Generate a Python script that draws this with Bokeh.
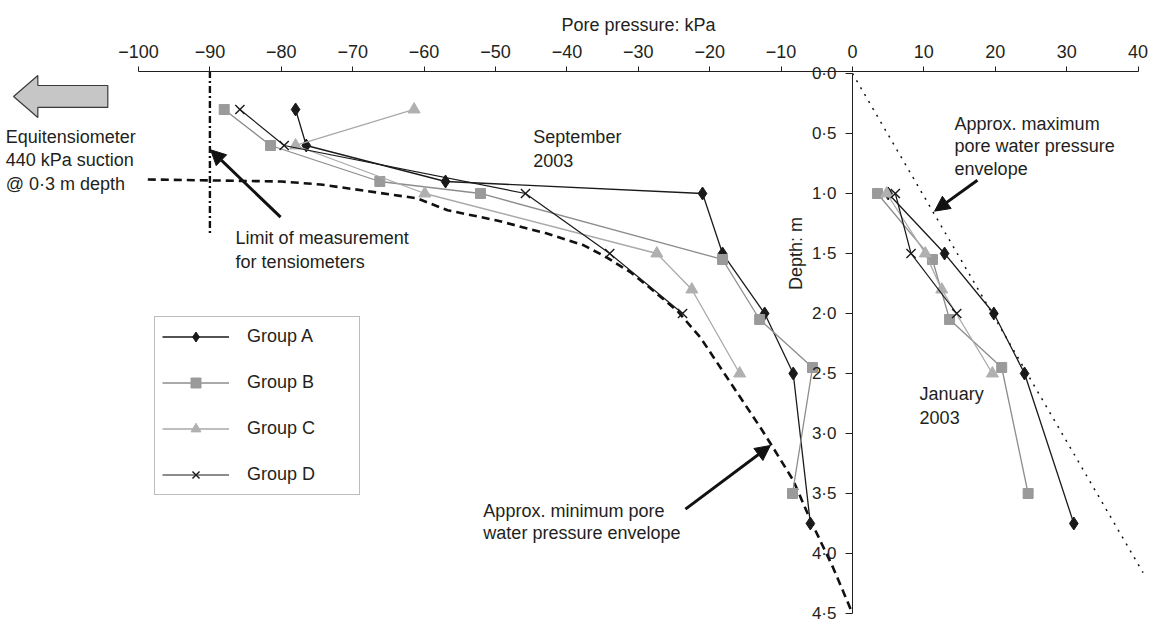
from math import pi

from bokeh.core.properties import value
from bokeh.embed import file_html
from bokeh.models import (Arrow, ColumnDataSource, CustomJSTickFormatter, FixedTicker,
                          Legend, LegendItem, NormalHead, Range1d)
from bokeh.plotting import figure
from bokeh.resources import INLINE

# ---- tick values -------------------------------------------------------------
PRESSURE_TICKS = [-100, -90, -80, -70, -60, -50, -40, -30, -20, -10, 0, 10, 20, 30, 40]
DEPTH_TICKS = [0.0, 0.5, 1.0, 1.5, 2.0, 2.5, 3.0, 3.5, 4.0, 4.5]

# ---- September 2003 profiles (pressure kPa, depth m) -------------------------
SEP_A_P = [-78.0, -76.5, -57.0, -21.0, -18.2, -12.3, -8.3, -5.9]
SEP_A_D = [0.3, 0.6, 0.9, 1.0, 1.5, 2.0, 2.5, 3.75]
SEP_B_P = [-88.0, -81.5, -66.2, -52.1, -18.2, -13.0, -5.6, -8.4]
SEP_B_D = [0.3, 0.6, 0.9, 1.0, 1.55, 2.05, 2.45, 3.5]
SEP_C_P = [-61.4, -78.0, -59.9, -27.4, -22.5, -15.8]
SEP_C_D = [0.3, 0.6, 1.0, 1.5, 1.8, 2.5]
SEP_D_P = [-85.8, -79.6, -45.8, -34.0, -23.8]
SEP_D_D = [0.3, 0.6, 1.0, 1.5, 2.0]

# ---- January 2003 profiles ---------------------------------------------------
JAN_A_P = [5.0, 12.9, 19.8, 24.1, 31.0]
JAN_A_D = [1.0, 1.5, 2.0, 2.5, 3.75]
JAN_B_P = [3.5, 11.2, 13.6, 20.9, 24.6]
JAN_B_D = [1.0, 1.55, 2.05, 2.45, 3.5]
JAN_C_P = [4.8, 10.2, 12.5, 19.6]
JAN_C_D = [1.0, 1.5, 1.8, 2.5]
JAN_D_P = [6.0, 8.2, 14.6]
JAN_D_D = [1.0, 1.5, 2.0]

# ---- envelopes and limits ----------------------------------------------------
MIN_ENV_P = [-98.7, -80.0, -74.5, -70.3, -61.0, -56.7, -49.8, -43.0, -37.7, -34.5,
             -31.0, -28.3, -24.5, -21.3, -17.5, -12.9, -11.1, -8.3, -5.9, -2.7, 0.0]
MIN_ENV_D = [0.883, 0.9, 0.925, 0.96, 1.04, 1.14, 1.225, 1.33, 1.43, 1.53,
             1.66, 1.79, 1.98, 2.2, 2.54, 2.95, 3.12, 3.39, 3.72, 4.12, 4.5]
MAX_ENV_P = [0.0, 40.7]
MAX_ENV_D = [0.0, 4.16]
LIMIT_P = [-90.0, -90.0]
LIMIT_D = [-0.02, 1.33]

# block arrow pointing to the off-scale equitensiometer reading
EQUI_ARROW_P = [-117.5, -114.1, -114.1, -104.3, -104.3, -114.1, -114.1]
EQUI_ARROW_D = [0.192, 0.017, 0.1, 0.1, 0.283, 0.283, 0.367]

# ---- annotation texts --------------------------------------------------------
NOTE_TEXT = ["Equitensiometer", "440 kPa suction", "@ 0\u00b73 m depth",
             "Limit of measurement", "for tensiometers",
             "September", "2003",
             "Approx. maximum", "pore water pressure", "envelope",
             "January", "2003",
             "Approx. minimum pore", "water pressure envelope"]
NOTE_P = [-118.6, -118.6, -118.6,
          -86.4, -86.4,
          -44.7, -44.7,
          14.3, 14.3, 14.3,
          9.4, 9.4,
          -51.7, -51.7]
NOTE_D = [0.533, 0.725, 0.917,
          1.375, 1.575,
          0.533, 0.725,
          0.417, 0.608, 0.8,
          2.667, 2.867,
          3.642, 3.833]

ARROW_P0 = [-80.1, 17.5, -23.4]
ARROW_D0 = [1.197, 0.89, 3.63]
ARROW_P1 = [-89.9, 11.5, -11.5]
ARROW_D1 = [0.636, 1.147, 3.1]

FONT = "Liberation Sans"
INK = "#231f20"

p = figure(width=1151, height=625, output_backend="svg", toolbar_location=None,
           x_range=Range1d(-119.33, 41.88), y_range=Range1d(4.6, -0.6083),
           x_axis_location="above", y_axis_location="left",
           min_border=0, outline_line_color=None, background_fill_color="white")
p.min_border_left = p.min_border_right = p.min_border_top = p.min_border_bottom = 0
p.xgrid.visible = False
p.ygrid.visible = False

# pressure axis along the ground surface
xa = p.xaxis[0]
xa.fixed_location = -0.02
xa.bounds = (-100, 40)
xa.ticker = FixedTicker(ticks=PRESSURE_TICKS)
xa.formatter = CustomJSTickFormatter(
    code="return tick < 0 ? '\\u2212' + Math.abs(tick) : String(tick);")
xa.major_tick_out = 5
xa.major_tick_in = 0
xa.minor_tick_out = 0
xa.minor_tick_in = 0
xa.major_label_standoff = 8
xa.axis_label = "Pore pressure: kPa"
xa.axis_label_standoff = 8
xa.axis_label_text_font = FONT
xa.axis_label_text_font_style = "normal"
xa.axis_label_text_font_size = "18px"
xa.axis_label_text_color = INK
xa.major_label_text_font = FONT
xa.major_label_text_font_size = "18px"
xa.major_label_text_color = INK
xa.axis_line_color = INK
xa.major_tick_line_color = INK

# depth axis through zero pressure
ya = p.yaxis[0]
ya.fixed_location = 0
ya.bounds = (0, 4.5)
ya.ticker = FixedTicker(ticks=DEPTH_TICKS)
ya.formatter = CustomJSTickFormatter(code="return tick.toFixed(1).replace('.', '\\u00b7');")
ya.major_tick_out = 7
ya.major_tick_in = 0
ya.minor_tick_out = 0
ya.minor_tick_in = 0
ya.major_label_standoff = 9
ya.major_label_text_font = FONT
ya.major_label_text_font_size = "17px"
ya.major_label_text_color = INK
ya.axis_line_color = INK
ya.major_tick_line_color = INK

p.text(x=[-7.98], y=[1.5], text=["Depth: m"], angle=pi / 2,
       text_font=value(FONT), text_font_size="18px", text_color=INK,
       text_align="center", text_baseline="middle")

# envelopes and measurement limit
p.line(MIN_ENV_P, MIN_ENV_D, line_color="#111111", line_width=2.6, line_dash="8 5")
p.line(MAX_ENV_P, MAX_ENV_D, line_color="#111111", line_width=1.5, line_dash="2 6")
p.line(LIMIT_P, LIMIT_D, line_color="#111111", line_width=2.4, line_dash="7 3 2 3")

p.patch(EQUI_ARROW_P, EQUI_ARROW_D, fill_color="#c6c6c6", line_color="#3a3a3a", line_width=1.2)

STYLE = {
    "A": dict(line="#1a1a1a", marker="diamond", fill="#1a1a1a", size=13, lw=1.3),
    "B": dict(line="#8c8c8c", marker="square", fill="#9a9a9a", size=10, lw=1.3),
    "C": dict(line="#a9a9a9", marker="triangle", fill="#b0b0b0", size=12, lw=1.3),
    "D": dict(line="#1a1a1a", marker="x", fill="#1a1a1a", size=13, lw=1.2),
}
SERIES = [
    ("A", SEP_A_P, SEP_A_D, JAN_A_P, JAN_A_D),
    ("B", SEP_B_P, SEP_B_D, JAN_B_P, JAN_B_D),
    ("C", SEP_C_P, SEP_C_D, JAN_C_P, JAN_C_D),
    ("D", SEP_D_P, SEP_D_D, JAN_D_P, JAN_D_D),
]

legend_items = []
for key, sp, sd, jp, jd in SERIES:
    st = STYLE[key]
    renderers = []
    for xs, ys in ((sp, sd), (jp, jd)):
        src = ColumnDataSource(dict(p=xs, d=ys))
        ln = p.line("p", "d", source=src, line_color=st["line"], line_width=st["lw"])
        mk = p.scatter("p", "d", source=src, marker=st["marker"], size=st["size"],
                       fill_color=st["fill"], line_color=st["fill"],
                       line_width=1.4 if key == "D" else 1)
        if not renderers:
            renderers = [ln, mk]
    legend_items.append(LegendItem(label="Group " + key, renderers=renderers))

legend = Legend(items=legend_items, location=(154, 130), orientation="vertical",
                padding=7, spacing=21, glyph_width=67, glyph_height=25, label_height=25,
                label_width=105, label_standoff=18, margin=0,
                label_text_font=FONT, label_text_font_size="18px", label_text_color=INK,
                border_line_color="#7a7a7a", border_line_width=1.2,
                background_fill_color="white", background_fill_alpha=1)
p.add_layout(legend, "center")

for x0, y0, x1, y1 in zip(ARROW_P0, ARROW_D0, ARROW_P1, ARROW_D1):
    p.add_layout(Arrow(x_start=x0, y_start=y0, x_end=x1, y_end=y1,
                       line_color="#111111", line_width=3,
                       end=NormalHead(size=15, fill_color="#111111", line_color="#111111")))

p.text(x=NOTE_P, y=NOTE_D, text=NOTE_TEXT, text_font=value(FONT), text_font_size="18px",
       text_color=INK, text_align="left", text_baseline="middle")

open("out.html", "w").write(file_html(p, INLINE))
